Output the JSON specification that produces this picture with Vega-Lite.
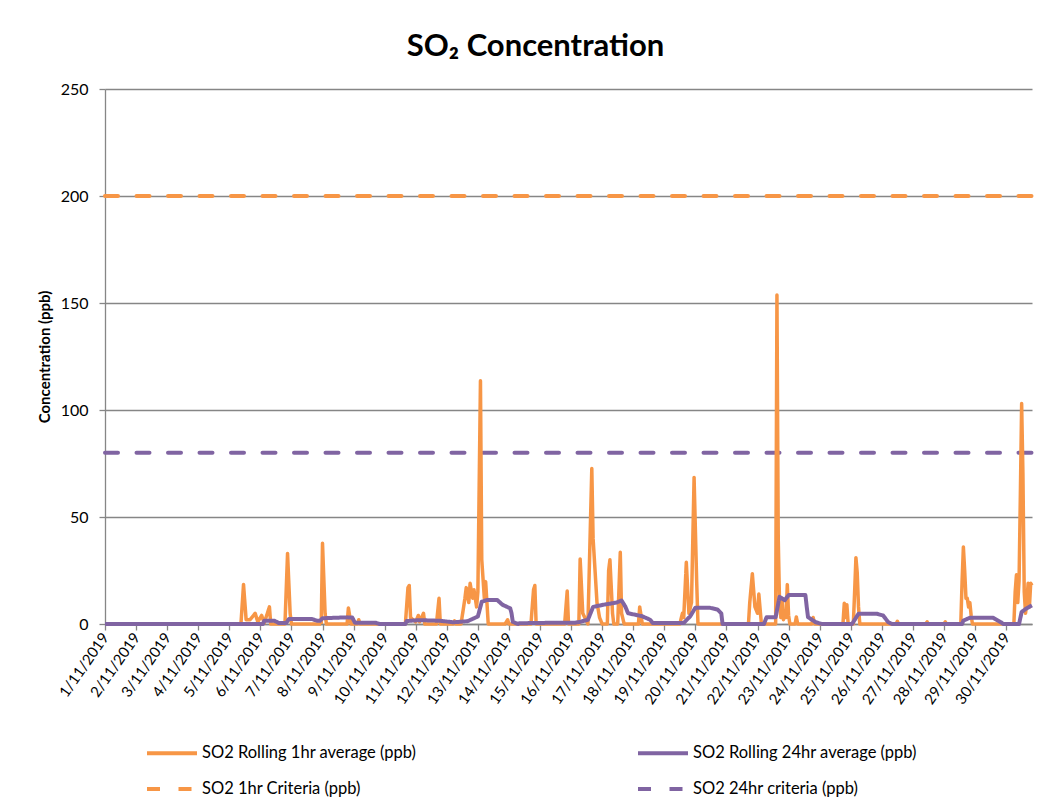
{
  "$schema": "https://vega.github.io/schema/vega-lite/v6.json",
  "autosize": "none",
  "width": 927,
  "height": 535,
  "padding": {"left": 105, "top": 89, "right": 16, "bottom": 186},
  "background": "white",
  "config": {
    "font": "Lato",
    "view": {"stroke": null},
    "axis": {"labelColor": "#000", "titleColor": "#000", "domainColor": "#868686", "tickColor": "#868686", "domainWidth": 1.3, "tickWidth": 1.3}
  },
  "title": {"text": "SO₂ Concentration", "font": "Lato", "fontSize": 31, "fontWeight": "bold", "color": "#000", "anchor": "middle", "dx": -33, "offset": 18},
  "datasets": {
    "h1": [
      {"t": "2019-11-01T00:00", "v": 0}, {"t": "2019-11-05T09:00", "v": 0}, {"t": "2019-11-05T11:00", "v": 18.5}, {"t": "2019-11-05T13:00", "v": 2},
      {"t": "2019-11-05T16:00", "v": 2}, {"t": "2019-11-05T20:00", "v": 5}, {"t": "2019-11-05T22:00", "v": 1}, {"t": "2019-11-06T01:00", "v": 4},
      {"t": "2019-11-06T03:00", "v": 0.5}, {"t": "2019-11-06T07:00", "v": 8}, {"t": "2019-11-06T08:00", "v": 0}, {"t": "2019-11-06T19:00", "v": 0},
      {"t": "2019-11-06T21:00", "v": 33}, {"t": "2019-11-06T23:00", "v": 5}, {"t": "2019-11-07T00:00", "v": 0}, {"t": "2019-11-07T23:00", "v": 0},
      {"t": "2019-11-08T00:00", "v": 37.7}, {"t": "2019-11-08T02:00", "v": 5}, {"t": "2019-11-08T03:00", "v": 0}, {"t": "2019-11-08T19:00", "v": 0},
      {"t": "2019-11-08T20:00", "v": 7.5}, {"t": "2019-11-08T22:00", "v": 0}, {"t": "2019-11-09T03:00", "v": 0}, {"t": "2019-11-09T04:00", "v": 2},
      {"t": "2019-11-09T05:00", "v": 0}, {"t": "2019-11-10T16:00", "v": 0}, {"t": "2019-11-10T18:00", "v": 17}, {"t": "2019-11-10T19:00", "v": 18},
      {"t": "2019-11-10T20:00", "v": 3}, {"t": "2019-11-11T00:00", "v": 1}, {"t": "2019-11-11T02:00", "v": 4}, {"t": "2019-11-11T03:00", "v": 1},
      {"t": "2019-11-11T06:00", "v": 5}, {"t": "2019-11-11T07:00", "v": 0}, {"t": "2019-11-11T16:00", "v": 0}, {"t": "2019-11-11T18:00", "v": 12},
      {"t": "2019-11-11T19:00", "v": 0}, {"t": "2019-11-12T05:00", "v": 0}, {"t": "2019-11-12T06:00", "v": 1.5}, {"t": "2019-11-12T07:00", "v": 0},
      {"t": "2019-11-12T11:00", "v": 0}, {"t": "2019-11-12T14:00", "v": 12}, {"t": "2019-11-12T15:00", "v": 17}, {"t": "2019-11-12T17:00", "v": 10},
      {"t": "2019-11-12T18:00", "v": 19}, {"t": "2019-11-12T20:00", "v": 12}, {"t": "2019-11-12T21:00", "v": 16}, {"t": "2019-11-12T23:00", "v": 8},
      {"t": "2019-11-13T00:00", "v": 15}, {"t": "2019-11-13T02:00", "v": 113.7}, {"t": "2019-11-13T03:00", "v": 30}, {"t": "2019-11-13T05:00", "v": 12},
      {"t": "2019-11-13T06:00", "v": 19.8}, {"t": "2019-11-13T07:00", "v": 10}, {"t": "2019-11-13T08:00", "v": 0}, {"t": "2019-11-13T21:00", "v": 0},
      {"t": "2019-11-13T23:00", "v": 2}, {"t": "2019-11-14T00:00", "v": 0}, {"t": "2019-11-14T17:00", "v": 0}, {"t": "2019-11-14T19:00", "v": 16},
      {"t": "2019-11-14T20:00", "v": 18}, {"t": "2019-11-14T21:00", "v": 0}, {"t": "2019-11-15T19:00", "v": 0}, {"t": "2019-11-15T21:00", "v": 15.4},
      {"t": "2019-11-15T22:00", "v": 0}, {"t": "2019-11-16T06:00", "v": 0}, {"t": "2019-11-16T07:00", "v": 30.4}, {"t": "2019-11-16T09:00", "v": 5},
      {"t": "2019-11-16T13:00", "v": 0}, {"t": "2019-11-16T16:00", "v": 72.7}, {"t": "2019-11-16T17:00", "v": 40}, {"t": "2019-11-16T19:00", "v": 20},
      {"t": "2019-11-16T20:00", "v": 10}, {"t": "2019-11-16T22:00", "v": 3}, {"t": "2019-11-17T00:00", "v": 0}, {"t": "2019-11-17T04:00", "v": 0},
      {"t": "2019-11-17T05:00", "v": 25}, {"t": "2019-11-17T06:00", "v": 30}, {"t": "2019-11-17T08:00", "v": 5}, {"t": "2019-11-17T09:00", "v": 0},
      {"t": "2019-11-17T12:00", "v": 0}, {"t": "2019-11-17T14:00", "v": 33.5}, {"t": "2019-11-17T15:00", "v": 5}, {"t": "2019-11-17T17:00", "v": 0},
      {"t": "2019-11-18T04:00", "v": 0}, {"t": "2019-11-18T05:00", "v": 8}, {"t": "2019-11-18T07:00", "v": 0}, {"t": "2019-11-19T12:00", "v": 0},
      {"t": "2019-11-19T14:00", "v": 5}, {"t": "2019-11-19T15:00", "v": 3}, {"t": "2019-11-19T17:00", "v": 28.8}, {"t": "2019-11-19T19:00", "v": 5},
      {"t": "2019-11-19T21:00", "v": 10}, {"t": "2019-11-19T23:00", "v": 68.5}, {"t": "2019-11-20T01:00", "v": 20}, {"t": "2019-11-20T02:00", "v": 0},
      {"t": "2019-11-21T17:00", "v": 0}, {"t": "2019-11-21T18:00", "v": 10}, {"t": "2019-11-21T20:00", "v": 23.5}, {"t": "2019-11-21T22:00", "v": 8},
      {"t": "2019-11-22T00:00", "v": 5}, {"t": "2019-11-22T01:00", "v": 14}, {"t": "2019-11-22T03:00", "v": 0}, {"t": "2019-11-22T14:00", "v": 0},
      {"t": "2019-11-22T15:00", "v": 153.7}, {"t": "2019-11-22T16:00", "v": 40}, {"t": "2019-11-22T17:00", "v": 10}, {"t": "2019-11-22T18:00", "v": 3},
      {"t": "2019-11-22T19:00", "v": 12}, {"t": "2019-11-22T20:00", "v": 2}, {"t": "2019-11-22T21:00", "v": 6}, {"t": "2019-11-22T22:00", "v": 3},
      {"t": "2019-11-22T23:00", "v": 18.4}, {"t": "2019-11-23T00:00", "v": 4}, {"t": "2019-11-23T01:00", "v": 0}, {"t": "2019-11-23T05:00", "v": 0},
      {"t": "2019-11-23T06:00", "v": 3.3}, {"t": "2019-11-23T07:00", "v": 0}, {"t": "2019-11-23T18:00", "v": 0}, {"t": "2019-11-23T19:00", "v": 3},
      {"t": "2019-11-23T20:00", "v": 0}, {"t": "2019-11-24T18:00", "v": 0}, {"t": "2019-11-24T19:00", "v": 9.7}, {"t": "2019-11-24T20:00", "v": 3},
      {"t": "2019-11-24T21:00", "v": 9}, {"t": "2019-11-24T22:00", "v": 0}, {"t": "2019-11-25T02:00", "v": 0}, {"t": "2019-11-25T03:00", "v": 15},
      {"t": "2019-11-25T04:00", "v": 31}, {"t": "2019-11-25T05:00", "v": 24}, {"t": "2019-11-25T06:00", "v": 8}, {"t": "2019-11-25T07:00", "v": 0},
      {"t": "2019-11-26T11:00", "v": 0}, {"t": "2019-11-26T12:00", "v": 1.3}, {"t": "2019-11-26T13:00", "v": 0}, {"t": "2019-11-27T10:00", "v": 0},
      {"t": "2019-11-27T11:00", "v": 1}, {"t": "2019-11-27T12:00", "v": 0}, {"t": "2019-11-28T00:00", "v": 0}, {"t": "2019-11-28T01:00", "v": 1},
      {"t": "2019-11-28T02:00", "v": 0}, {"t": "2019-11-28T13:00", "v": 0}, {"t": "2019-11-28T14:00", "v": 20}, {"t": "2019-11-28T15:00", "v": 36},
      {"t": "2019-11-28T16:00", "v": 25}, {"t": "2019-11-28T17:00", "v": 12}, {"t": "2019-11-28T18:00", "v": 12}, {"t": "2019-11-28T19:00", "v": 8},
      {"t": "2019-11-28T20:00", "v": 10}, {"t": "2019-11-28T21:00", "v": 4}, {"t": "2019-11-28T22:00", "v": 0}, {"t": "2019-11-30T06:00", "v": 0},
      {"t": "2019-11-30T07:00", "v": 15}, {"t": "2019-11-30T08:00", "v": 23}, {"t": "2019-11-30T09:00", "v": 10}, {"t": "2019-11-30T10:00", "v": 20},
      {"t": "2019-11-30T11:00", "v": 60}, {"t": "2019-11-30T12:00", "v": 103}, {"t": "2019-11-30T13:00", "v": 70}, {"t": "2019-11-30T14:00", "v": 15},
      {"t": "2019-11-30T15:00", "v": 5}, {"t": "2019-11-30T16:00", "v": 10}, {"t": "2019-11-30T17:00", "v": 19}, {"t": "2019-11-30T18:00", "v": 8},
      {"t": "2019-11-30T19:00", "v": 19}, {"t": "2019-11-30T20:00", "v": 18}
    ],
    "h24": [
      {"t": "2019-11-01T00:00", "v": 0}, {"t": "2019-11-06T02:00", "v": 0}, {"t": "2019-11-06T03:00", "v": 1.5}, {"t": "2019-11-06T11:00", "v": 1.5},
      {"t": "2019-11-06T14:00", "v": 0.5}, {"t": "2019-11-06T20:00", "v": 0.5}, {"t": "2019-11-06T22:00", "v": 2.3}, {"t": "2019-11-07T16:00", "v": 2.3},
      {"t": "2019-11-07T20:00", "v": 1.5}, {"t": "2019-11-07T22:00", "v": 1.5}, {"t": "2019-11-08T00:00", "v": 2.7}, {"t": "2019-11-08T19:00", "v": 3.1},
      {"t": "2019-11-08T23:00", "v": 3.0}, {"t": "2019-11-09T01:00", "v": 0.6}, {"t": "2019-11-09T17:00", "v": 0.6}, {"t": "2019-11-09T20:00", "v": 0},
      {"t": "2019-11-10T16:00", "v": 0}, {"t": "2019-11-10T17:00", "v": 1.4}, {"t": "2019-11-11T03:00", "v": 1.8}, {"t": "2019-11-11T19:00", "v": 1.5},
      {"t": "2019-11-12T05:00", "v": 0.8}, {"t": "2019-11-12T16:00", "v": 1.3}, {"t": "2019-11-12T20:00", "v": 2.4}, {"t": "2019-11-13T00:00", "v": 3.5},
      {"t": "2019-11-13T03:00", "v": 10.4}, {"t": "2019-11-13T07:00", "v": 11.2}, {"t": "2019-11-13T15:00", "v": 11.2}, {"t": "2019-11-13T19:00", "v": 9},
      {"t": "2019-11-14T01:00", "v": 7.3}, {"t": "2019-11-14T02:00", "v": 5}, {"t": "2019-11-14T03:00", "v": 1}, {"t": "2019-11-14T07:00", "v": 0},
      {"t": "2019-11-14T08:00", "v": 0.3}, {"t": "2019-11-14T20:00", "v": 0.5}, {"t": "2019-11-16T03:00", "v": 0.6}, {"t": "2019-11-16T07:00", "v": 1},
      {"t": "2019-11-16T13:00", "v": 2}, {"t": "2019-11-16T17:00", "v": 8}, {"t": "2019-11-17T01:00", "v": 9}, {"t": "2019-11-17T11:00", "v": 10},
      {"t": "2019-11-17T15:00", "v": 11}, {"t": "2019-11-17T18:00", "v": 8}, {"t": "2019-11-17T20:00", "v": 5}, {"t": "2019-11-18T01:00", "v": 4.4},
      {"t": "2019-11-18T07:00", "v": 3.6}, {"t": "2019-11-18T13:00", "v": 2}, {"t": "2019-11-18T15:00", "v": 0.5}, {"t": "2019-11-19T15:00", "v": 0.5},
      {"t": "2019-11-19T20:00", "v": 3.6}, {"t": "2019-11-20T00:00", "v": 7.6}, {"t": "2019-11-20T11:00", "v": 7.6}, {"t": "2019-11-20T17:00", "v": 6.8},
      {"t": "2019-11-20T20:00", "v": 5}, {"t": "2019-11-20T21:00", "v": 0}, {"t": "2019-11-22T05:00", "v": 0}, {"t": "2019-11-22T07:00", "v": 3.2},
      {"t": "2019-11-22T14:00", "v": 3.2}, {"t": "2019-11-22T17:00", "v": 12.7}, {"t": "2019-11-22T21:00", "v": 11.1}, {"t": "2019-11-23T00:00", "v": 13.5},
      {"t": "2019-11-23T13:00", "v": 13.5}, {"t": "2019-11-23T14:00", "v": 8}, {"t": "2019-11-23T15:00", "v": 3.2}, {"t": "2019-11-23T21:00", "v": 0.8},
      {"t": "2019-11-24T02:00", "v": 0}, {"t": "2019-11-25T01:00", "v": 0}, {"t": "2019-11-25T06:00", "v": 4.8}, {"t": "2019-11-25T20:00", "v": 4.8},
      {"t": "2019-11-26T01:00", "v": 4}, {"t": "2019-11-26T05:00", "v": 0.8}, {"t": "2019-11-26T08:00", "v": 0}, {"t": "2019-11-28T14:00", "v": 0},
      {"t": "2019-11-28T15:00", "v": 1.6}, {"t": "2019-11-28T20:00", "v": 2.9}, {"t": "2019-11-29T14:00", "v": 2.9}, {"t": "2019-11-29T20:00", "v": 0.8},
      {"t": "2019-11-29T22:00", "v": 0}, {"t": "2019-11-30T10:00", "v": 0}, {"t": "2019-11-30T12:00", "v": 5.6}, {"t": "2019-11-30T15:00", "v": 7},
      {"t": "2019-11-30T20:00", "v": 8.7}
    ],
    "c1": [{"t": "2019-11-01T00:00", "v": 200}, {"t": "2019-11-30T20:00", "v": 200}],
    "c24": [{"t": "2019-11-01T00:00", "v": 80}, {"t": "2019-11-30T20:00", "v": 80}]
  },
  "encoding": {
    "x": {
      "field": "t", "type": "temporal",
      "scale": {"domain": [{"year": 2019, "month": 11, "date": 1, "hours": 0}, {"year": 2019, "month": 11, "date": 30, "hours": 20}]},
      "axis": {"title": null, "tickCount": {"interval": "day", "step": 1}, "format": "%-d/%m/%Y", "labelAngle": -55, "labelFontSize": 15, "labelOverlap": false, "labelFlush": false, "labelBound": false, "grid": false, "tickSize": 6, "labelPadding": 4}
    },
    "y": {
      "field": "v", "type": "quantitative",
      "scale": {"domain": [0, 250], "nice": false},
      "axis": {"values": [0, 50, 100, 150, 200, 250], "grid": true, "gridColor": "#868686", "gridWidth": 1.3, "tickSize": 6, "labelPadding": 11, "labelFontSize": 16, "title": "Concentration (ppb)", "titleFontSize": 15, "titleFontWeight": "bold", "titlePadding": 8}
    }
  },
  "layer": [
    {
      "data": {"name": "c1"},
      "mark": {"type": "line", "strokeWidth": 4, "strokeCap": "round"},
      "encoding": {
        "color": {
          "datum": "SO2 1hr Criteria (ppb)",
          "scale": {"domain": ["SO2 Rolling 1hr average (ppb)", "SO2 1hr Criteria (ppb)", "SO2 Rolling 24hr average (ppb)", "SO2 24hr criteria (ppb)"], "range": ["#F79646", "#F79646", "#8064A2", "#8064A2"]},
          "legend": {"orient": "none", "legendX": 40, "legendY": 637, "columns": 2, "title": null, "symbolType": "stroke", "symbolSize": 2500, "symbolStrokeWidth": 4, "labelFontSize": 16.5, "labelColor": "#000", "labelFont": "Lato", "labelLimit": 500, "columnPadding": 213, "rowPadding": -12, "labelOffset": 3, "padding": 0}
        },
        "strokeDash": {
          "datum": "SO2 1hr Criteria (ppb)",
          "scale": {"domain": ["SO2 Rolling 1hr average (ppb)", "SO2 1hr Criteria (ppb)", "SO2 Rolling 24hr average (ppb)", "SO2 24hr criteria (ppb)"], "range": [[1, 0], [13, 18.5], [1, 0], [13, 18.5]]}
        }
      }
    },
    {
      "data": {"name": "c24"},
      "mark": {"type": "line", "strokeWidth": 4, "strokeCap": "round"},
      "encoding": {"color": {"datum": "SO2 24hr criteria (ppb)"}, "strokeDash": {"datum": "SO2 24hr criteria (ppb)"}}
    },
    {
      "data": {"name": "h1"},
      "mark": {"type": "line", "strokeWidth": 3.5, "strokeJoin": "round"},
      "encoding": {"color": {"datum": "SO2 Rolling 1hr average (ppb)"}, "strokeDash": {"datum": "SO2 Rolling 1hr average (ppb)"}}
    },
    {
      "data": {"name": "h24"},
      "mark": {"type": "line", "strokeWidth": 4, "strokeJoin": "round"},
      "encoding": {"color": {"datum": "SO2 Rolling 24hr average (ppb)"}, "strokeDash": {"datum": "SO2 Rolling 24hr average (ppb)"}}
    }
  ]
}
